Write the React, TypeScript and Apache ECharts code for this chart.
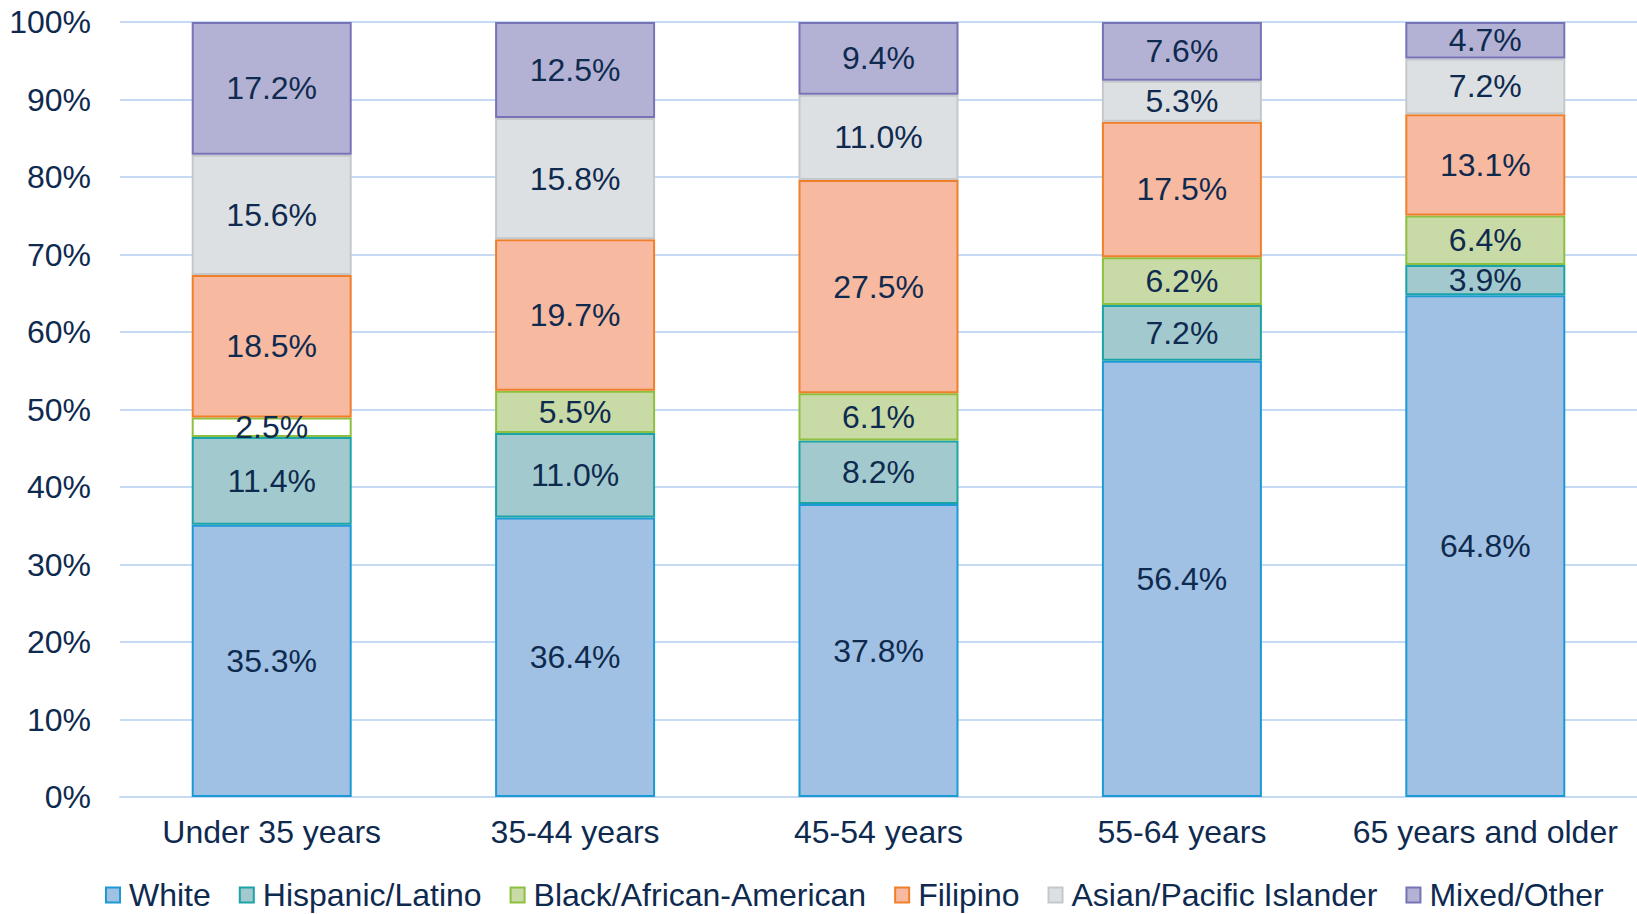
import React, { useEffect, useRef } from "react";
import * as echarts from "echarts";

const categories = ["Under 35 years", "35-44 years", "45-54 years", "55-64 years", "65 years and older"];
const seriesNames = ["White", "Hispanic/Latino", "Black/African-American", "Filipino", "Asian/Pacific Islander", "Mixed/Other"];
const white = [35.3, 36.4, 37.8, 56.4, 64.8];
const hispanic = [11.4, 11.0, 8.2, 7.2, 3.9];
const black = [2.5, 5.5, 6.1, 6.2, 6.4];
const filipino = [18.5, 19.7, 27.5, 17.5, 13.1];
const asian = [15.6, 15.8, 11.0, 5.3, 7.2];
const mixed = [17.2, 12.5, 9.4, 7.6, 4.7];
const yTicks = [0, 10, 20, 30, 40, 50, 60, 70, 80, 90, 100];

const fills = ["#A0C1E3", "#A2CACE", "#C8DAA6", "#F7B9A0", "#DDE0E3", "#B4B2D4"];
const borders = ["#1B9AD6", "#1AA3A8", "#8DC03F", "#F07F2A", "#C5C8CB", "#7673B7"];
const TEXT = "#0F2A4F";
const FONT = "'Liberation Sans', Arial, sans-serif";
const FS = 32;

export default function App() {
  const ref = useRef<HTMLDivElement>(null);
  useEffect(() => {
    if (!ref.current) return;
    const chart = echarts.init(ref.current, undefined, { renderer: "svg" });
    const all = [white, hispanic, black, filipino, asian, mixed];
    const totals = categories.map((_, i) => all.reduce((s, arr) => s + arr[i], 0));
    const series = all.map((arr, si) => ({
      name: seriesNames[si],
      type: "bar",
      stack: "total",
      barWidth: 160,
      itemStyle: { color: fills[si], borderColor: borders[si], borderWidth: 2 },
      label: {
        show: true,
        position: "inside",
        color: TEXT,
        fontSize: FS,
        fontFamily: FONT,
        formatter: (p: any) => arr[p.dataIndex].toFixed(1) + "%",
      },
      data: arr.map((v, i) => {
        const val = (v / totals[i]) * 100;
        if (si === 2 && i === 0) return { value: val, itemStyle: { color: "#FFFFFF" } };
        return val;
      }),
    }));
    chart.setOption({
      animation: false,
      textStyle: { fontFamily: FONT },
      grid: { left: 120, right: 0, top: 22, bottom: 117, containLabel: false },
      legend: {
        data: seriesNames.map((n, i) => ({ name: n, itemStyle: { color: fills[i], borderColor: borders[i], borderWidth: 2 } })),
        left: 105,
        top: 879,
        padding: 0,
        icon: "rect",
        itemWidth: 14,
        itemHeight: 15,
        itemGap: 28,
        textStyle: { color: TEXT, fontSize: FS, fontFamily: FONT, padding: [0, 0, 0, 4] },
      },
      xAxis: {
        type: "category",
        data: categories,
        axisLine: { lineStyle: { color: "#C6DBF3", width: 2 } },
        axisTick: { show: false },
        axisLabel: { color: TEXT, fontSize: FS, fontFamily: FONT, margin: 19, interval: 0 },
      },
      yAxis: {
        type: "value",
        min: yTicks[0],
        max: yTicks[yTicks.length - 1],
        interval: 10,
        axisLine: { show: false },
        axisTick: { show: false },
        splitLine: { lineStyle: { color: "#C6DBF3", width: 2 } },
        axisLabel: { color: TEXT, fontSize: FS, fontFamily: FONT, margin: 29, formatter: "{value}%" },
      },
      series,
    });
    return () => chart.dispose();
  }, []);
  return <div ref={ref} style={{ position: "fixed", left: 0, top: 0, width: 1637, height: 914, background: "#fff" }} />;
}
